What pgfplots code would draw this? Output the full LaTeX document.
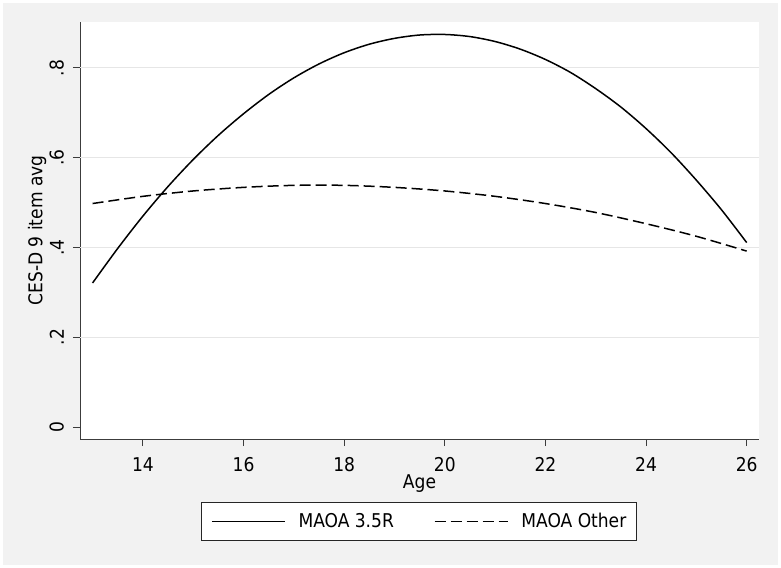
\documentclass[border=0pt]{standalone}
\usepackage{fontspec}
\setmainfont{DejaVu Sans Condensed}
\usepackage{pgfplots}
\pgfplotsset{compat=1.18}
\definecolor{bggray}{RGB}{242,242,242}
\definecolor{gridgray}{RGB}{230,230,230}
\definecolor{axisgray}{RGB}{60,60,60}
\newcommand{\cf}{\fontsize{19bp}{22bp}\selectfont}

\begin{document}
\begin{tikzpicture}
\useasboundingbox (0,0) rectangle (781bp,568bp);
\fill[bggray] (3bp,3bp) rectangle (778bp,565bp);
\begin{axis}[
 at={(80bp,129bp)}, anchor=south west,
 scale only axis, width=679bp, height=417bp,
 xmin=12.75, xmax=26.245, ymin=-0.0267, ymax=0.9025,
 axis x line*=bottom, axis y line*=left,
 axis line style={axisgray, line width=1bp},
 axis background/.style={fill=white},
 tick align=outside, major tick length=7bp,
 tick style={axisgray, line width=1bp},
 xtick={14,16,18,20,22,24,26}, xticklabels={14,16,18,20,22,24,26},
 ytick={0,0.2,0.4,0.6,0.8}, yticklabels={0,.2,.4,.6,.8},
 extra y ticks={0.2,0.4,0.6,0.8}, extra y tick labels={},
 extra y tick style={grid=major, major tick length=0pt},
 major grid style={gridgray, line width=1bp},
 xticklabel style={font=\cf, inner sep=0pt, anchor=north, yshift=-11bp},
 yticklabel style={font=\cf, inner sep=0pt, xshift=-9bp, rotate=90, anchor=south},
 xlabel={Age}, ylabel={CES-D 9 item avg},
 xlabel style={font=\cf, at={(axis description cs:0.5,-0.1058)}, anchor=center},
 ylabel style={font=\cf, at={(axis description cs:-0.0633,0.5)}, anchor=center},
 legend columns=2,
 legend cell align=left,
 legend image code/.code={\draw[#1] (0bp,0bp) -- (73bp,0bp);},
 legend style={at={(axis description cs:0.4988,-0.1511)}, anchor=north, font=\cf,
   draw=black!85, line width=0.8bp, fill=white, inner xsep=10bp, inner ysep=11bp,
   nodes={inner sep=0pt},
   /tikz/every odd column/.append style={column sep=13bp},
   /tikz/every even column/.append style={column sep=40bp}},
]
\addplot[black, line width=1.5bp, smooth] coordinates {
(13,0.321) (13.5,0.398) (14,0.470) (14.5,0.536) (15,0.596) (15.5,0.650)
(16,0.698) (16.5,0.741) (17,0.778) (17.5,0.809) (18,0.834) (18.5,0.853)
(19,0.866) (19.5,0.8735) (20,0.8747) (20.5,0.870) (21,0.859) (21.5,0.842)
(22,0.819) (22.5,0.790) (23,0.754) (23.5,0.713) (24,0.665) (24.5,0.611)
(25,0.550) (25.5,0.484) (26,0.411)};
\addlegendentry{MAOA 3.5R}
\addplot[black, line width=1.5bp, dash pattern=on 11bp off 5bp, smooth] coordinates {
(13,0.498) (14,0.514) (15,0.526) (16,0.534) (17,0.5385) (18,0.5385)
(19,0.534) (20,0.526) (21,0.514) (22,0.498) (23,0.478) (24,0.453)
(25,0.425) (26,0.392)};
\addlegendentry{MAOA Other}
\end{axis}
\end{tikzpicture}
\end{document}
